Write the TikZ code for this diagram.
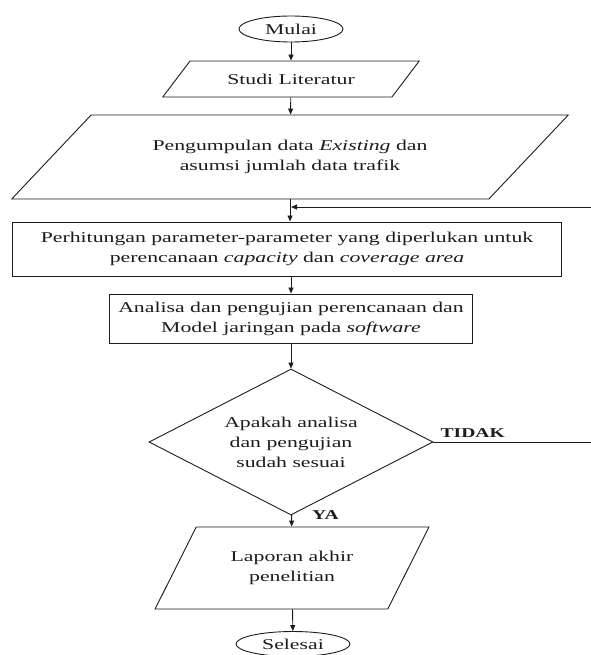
\documentclass[tikz,border=0pt]{standalone}
\usepackage{fontspec}
\setmainfont[FakeStretch=1.45]{Liberation Serif}
\usetikzlibrary{shapes.geometric,arrows.meta,positioning}
\definecolor{ink}{HTML}{1C1C1C}

\begin{document}
\begin{tikzpicture}[x=1pt,y=-1pt,font=\fontsize{15}{20}\selectfont,text=ink]
  \useasboundingbox (0,0) rectangle (590,655);
  \tikzset{
    terminal/.style={ellipse,draw=ink,line width=.9pt,minimum width=104pt,minimum height=26pt,inner sep=0pt},
    io/.style={trapezium,trapezium stretches=true,draw=ink,line width=.9pt,align=center,inner sep=0pt},
    process/.style={rectangle,draw=ink,line width=1pt,align=center,inner sep=0pt},
    decision/.style={diamond,draw=ink,line width=.9pt,align=center,inner sep=0pt,shape aspect=2},
    flow/.style={draw=ink,line width=.9pt,-{Triangle[length=6pt,width=5pt]}},
    answer/.style={font=\fontsize{13.5}{16}\selectfont\bfseries,inner sep=0pt}
  }

  % Start, then the two input steps.
  \node[terminal] (mulai) at (291,29) {Mulai};
  \node[io,trapezium left angle=31.5,trapezium right angle=148.5,minimum width=257pt,minimum height=36pt] (studi) at (291,79) {Studi Literatur};
  \node[io,trapezium left angle=31.5,trapezium right angle=148.5,minimum width=558pt,minimum height=84pt] (data) at (290,157)
    {Pengumpulan data \textit{Existing} dan\\asumsi jumlah data trafik};

  % Planning and testing.
  \node[process,minimum width=549pt,minimum height=54pt] (hitung) at (287,249)
    {Perhitungan parameter-parameter yang diperlukan untuk\\perencanaan \textit{capacity} dan \textit{coverage area}};
  \node[process,minimum width=363pt,minimum height=49pt] (uji) at (291,318.5)
    {Analisa dan pengujian perencanaan dan\\Model jaringan pada \textit{software}};

  % Check, report and end.
  \node[decision,minimum width=284pt,minimum height=146pt] (cek) at (291,442)
    {Apakah analisa\\dan pengujian\\sudah sesuai};
  \node[io,trapezium left angle=52,trapezium right angle=128,minimum width=274pt,minimum height=82pt] (lapor) at (292,568)
    {Laporan akhir\\penelitian};
  \node[terminal,minimum width=114pt,minimum height=25pt] (selesai) at (293,644) {Selesai};

  \node[answer,above right=4pt and 7pt of cek.east] (tidak) {TIDAK};
  \node[answer,right=21pt of cek.south] (ya) {YA};

  % Main flow.
  \draw[flow] (mulai) -- (studi);
  \draw[flow] (studi) -- (data);
  \draw[flow] (data.south) -- (data.south |- hitung.north);
  \draw[flow] (hitung.south -| uji) -- (uji);
  \draw[flow] (uji) -- (cek);
  \draw[flow] (cek) -- (lapor);
  \draw[flow] (lapor) -- (selesai);

  % Loop back when the check fails (its far side runs off the page).
  \coordinate (masuk) at (291,207);
  \coordinate (balik) at (600,442);
  \draw[flow] (cek.east) -- (balik) |- (masuk);
\end{tikzpicture}
\end{document}
